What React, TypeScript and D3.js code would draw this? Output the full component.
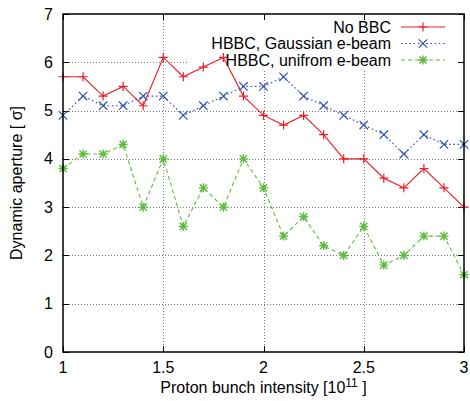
import React from "react";
import * as d3 from "d3";

const intensity = [1.0, 1.1, 1.2, 1.3, 1.4, 1.5, 1.6, 1.7, 1.8, 1.9, 2.0, 2.1, 2.2, 2.3, 2.4, 2.5, 2.6, 2.7, 2.8, 2.9, 3.0];
const noBBC = [5.7, 5.7, 5.3, 5.5, 5.1, 6.1, 5.7, 5.9, 6.1, 5.3, 4.9, 4.7, 4.9, 4.5, 4.0, 4.0, 3.6, 3.4, 3.8, 3.4, 3.0];
const gaussian = [4.9, 5.3, 5.1, 5.1, 5.3, 5.3, 4.9, 5.1, 5.3, 5.5, 5.5, 5.7, 5.3, 5.1, 4.9, 4.7, 4.5, 4.1, 4.5, 4.3, 4.3];
const uniform = [3.8, 4.1, 4.1, 4.3, 3.0, 4.0, 2.6, 3.4, 3.0, 4.0, 3.4, 2.4, 2.8, 2.2, 2.0, 2.6, 1.8, 2.0, 2.4, 2.4, 1.6];
const xTicks = [1, 1.5, 2, 2.5, 3];
const xTickLabels = ["1", "1.5", "2", "2.5", "3"];
const yTicks = [0, 1, 2, 3, 4, 5, 6, 7];
const seriesNames = ["No BBC", "HBBC, Gaussian e-beam", "HBBC, unifrom e-beam"];

const W = 470, H = 401;
const L = 63, R = 464, T = 14, B = 352;
const FONT = "'Liberation Sans', Arial, Helvetica, sans-serif";

type Marker = "plus" | "cross" | "star";

function MarkerShape({ x, y, type, color }: { x: number; y: number; type: Marker; color: string }) {
  const s = 4.5;
  const c = 3.6;
  const parts: string[] = [];
  if (type === "plus" || type === "star") {
    parts.push(`M${x - s},${y}H${x + s}M${x},${y - s}V${y + s}`);
  }
  if (type === "cross" || type === "star") {
    const k = type === "cross" ? 4.2 : c;
    parts.push(`M${x - k},${y - k}L${x + k},${y + k}M${x - k},${y + k}L${x + k},${y - k}`);
  }
  return <path d={parts.join("")} stroke={color} strokeWidth={type === "star" ? 1.4 : 1.2} fill="none" />;
}

export default function App() {
  const x = d3.scaleLinear().domain([1, 3]).range([L, R]);
  const y = d3.scaleLinear().domain([0, 7]).range([B, T]);

  const series = [
    { name: seriesNames[0], values: noBBC, color: "#ee1c25", dash: undefined as string | undefined, marker: "plus" as Marker },
    { name: seriesNames[1], values: gaussian, color: "#3050b8", dash: "1.6,2.6", marker: "cross" as Marker },
    { name: seriesNames[2], values: uniform, color: "#5cbb3c", dash: "4,3", marker: "star" as Marker },
  ];

  const line = d3
    .line<number>()
    .x((_, i) => x(intensity[i]))
    .y((d) => y(d));

  const gridColor = "#777";
  const legendRows = [27, 43.5, 60];

  return (
    <svg width={W} height={H} style={{ position: "absolute", left: 0, top: 0, background: "#fff" }} fontFamily={FONT}>
      <rect x={0} y={0} width={W} height={H} fill="#fff" />
      {/* grid */}
      <g stroke={gridColor} strokeWidth={1} strokeDasharray="1,2" fill="none">
        {yTicks.filter((t) => t > 0 && t < 7).map((t) => (
          <line key={"gy" + t} x1={L} x2={R} y1={Math.round(y(t)) + 0.5} y2={Math.round(y(t)) + 0.5} />
        ))}
        {xTicks.filter((t) => t > 1 && t < 3).map((t) => (
          <line key={"gx" + t} x1={Math.round(x(t)) + 0.5} x2={Math.round(x(t)) + 0.5} y1={T} y2={B} />
        ))}
      </g>
      {/* legend background */}
      <rect x={187} y={T + 1} width={R - 188} height={54} fill="#fff" />
      {/* ticks */}
      <g stroke="#000" strokeWidth={1}>
        {yTicks.map((t) => (
          <g key={"ty" + t}>
            <line x1={L} x2={L + 6} y1={Math.round(y(t)) + 0.5} y2={Math.round(y(t)) + 0.5} />
            <line x1={R - 6} x2={R} y1={Math.round(y(t)) + 0.5} y2={Math.round(y(t)) + 0.5} />
          </g>
        ))}
        {xTicks.map((t) => (
          <g key={"tx" + t}>
            <line x1={Math.round(x(t)) + 0.5} x2={Math.round(x(t)) + 0.5} y1={B} y2={B - 6} />
            <line x1={Math.round(x(t)) + 0.5} x2={Math.round(x(t)) + 0.5} y1={T} y2={T + 6} />
          </g>
        ))}
      </g>
      {/* data */}
      {series.map((s) => (
        <g key={s.name}>
          <path d={line(s.values) || ""} fill="none" stroke={s.color} strokeWidth={1.1} strokeDasharray={s.dash} />
          {s.values.map((v, i) => (
            <MarkerShape key={i} x={x(intensity[i])} y={y(v)} type={s.marker} color={s.color} />
          ))}
        </g>
      ))}
      {/* border */}
      <rect x={L} y={T} width={R - L} height={B - T} fill="none" stroke="#000" strokeWidth={1.5} />
      {/* tick labels */}
      <g fontSize={16} fill="#000">
        {yTicks.map((t) => (
          <text key={"ly" + t} x={53} y={y(t) + 5.5} textAnchor="end">
            {t}
          </text>
        ))}
        {xTicks.map((t, i) => (
          <text key={"lx" + t} x={x(t)} y={373} textAnchor="middle">
            {xTickLabels[i]}
          </text>
        ))}
      </g>
      {/* axis titles */}
      <text x={(L + R) / 2} y={393} textAnchor="middle" fontSize={16} fill="#000">
        Proton bunch intensity [10
        <tspan fontSize={12} dy={-6}>11</tspan>
        <tspan dy={6}> ]</tspan>
      </text>
      <text transform={`translate(22,${(T + B) / 2}) rotate(-90)`} textAnchor="middle" fontSize={16} fill="#000">
        Dynamic aperture [ σ]
      </text>
      {/* legend */}
      {series.map((s, i) => (
        <g key={"lg" + i}>
          <text x={391} y={legendRows[i] + 5.5} textAnchor="end" fontSize={16} fill="#000">
            {s.name}
          </text>
          <line x1={401} x2={445} y1={legendRows[i]} y2={legendRows[i]} stroke={s.color} strokeWidth={1.1} strokeDasharray={s.dash} />
          <MarkerShape x={423} y={legendRows[i]} type={s.marker} color={s.color} />
        </g>
      ))}
    </svg>
  );
}
